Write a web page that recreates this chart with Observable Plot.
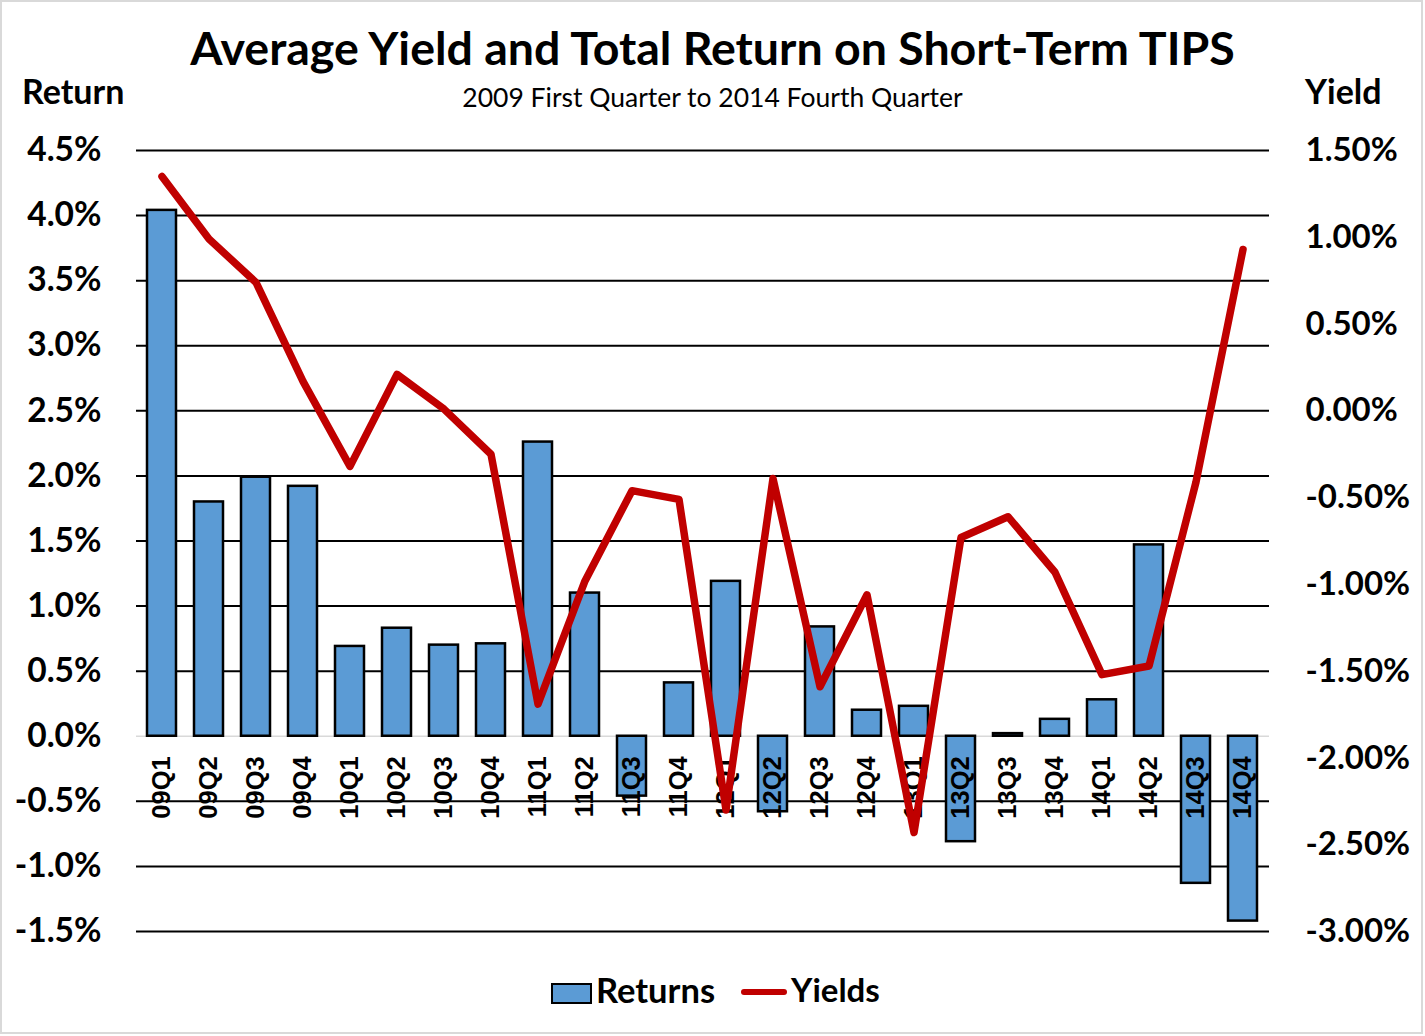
<!DOCTYPE html>
<html>
<head>
<meta charset="utf-8">
<script src="https://cdn.jsdelivr.net/npm/d3@7"></script>
<script src="https://cdn.jsdelivr.net/npm/@observablehq/plot@0.6"></script>
<style>
  html, body { margin: 0; padding: 0; background: #fff; }
  #page { position: relative; width: 1425px; height: 1036px; overflow: hidden; background: #fff; font-family: Lato, "Open Sans", sans-serif; color: #000; }
  .t { position: absolute; white-space: nowrap; line-height: 1; }
  #frame { position: absolute; left: 0; top: 0; width: 1423px; height: 1034px; border: 2px solid #d9d9d9; box-sizing: border-box; pointer-events: none; }
  #chart { position: absolute; left: 0; top: 120px; }
</style>
</head>
<body>
<div id="page">
  <div class="t" id="title" style="left:0;width:1425px;text-align:center;top:24px;font-size:46.5px;font-weight:700;">Average Yield and Total Return on Short-Term TIPS</div>
  <div class="t" id="subtitle" style="left:0;width:1425px;text-align:center;top:84px;font-size:26.5px;font-weight:400;">2009 First Quarter to 2014 Fourth Quarter</div>
  <div class="t" style="left:22px;top:74px;font-size:34px;font-weight:700;">Return</div>
  <div class="t" style="left:1305px;top:74px;font-size:34px;font-weight:700;">Yield</div>
  <div id="chart"></div>
  <div style="position:absolute;left:551px;top:983px;width:41px;height:21px;box-sizing:border-box;border:2px solid #000;background:#5b9bd5;"></div>
  <div class="t" style="left:596px;top:973px;font-size:34.5px;font-weight:700;">Returns</div>
  <div style="position:absolute;left:741px;top:989px;width:46px;height:6px;border-radius:3px;background:#c00000;"></div>
  <div class="t" style="left:791px;top:973px;font-size:33px;font-weight:700;">Yields</div>
  <div id="frame"></div>
</div>
<script>
// ---- data ----
const quarters = ["09Q1","09Q2","09Q3","09Q4","10Q1","10Q2","10Q3","10Q4","11Q1","11Q2","11Q3","11Q4",
                  "12Q1","12Q2","12Q3","12Q4","13Q1","13Q2","13Q3","13Q4","14Q1","14Q2","14Q3","14Q4"];
const returns = [4.04, 1.80, 1.99, 1.92, 0.69, 0.83, 0.70, 0.71, 2.26, 1.10, -0.46, 0.41,
                 1.19, -0.58, 0.84, 0.20, 0.23, -0.81, 0.02, 0.13, 0.28, 1.47, -1.13, -1.42];
const yields = [1.35, 0.99, 0.74, 0.17, -0.32, 0.21, 0.01, -0.25, -1.69, -0.98, -0.46, -0.51,
                -2.30, -0.39, -1.59, -1.06, -2.43, -0.73, -0.61, -0.93, -1.52, -1.47, -0.41, 0.93];
const returnTicks = [-1.5, -1.0, -0.5, 0, 0.5, 1.0, 1.5, 2.0, 2.5, 3.0, 3.5, 4.0, 4.5];
const yieldTicks = [-3.0, -2.5, -2.0, -1.5, -1.0, -0.5, 0, 0.5, 1.0, 1.5];
const returnDomain = [-1.5, 4.5];
const yieldDomain = [-3.0, 1.5];

const rows = quarters.map((q, i) => ({q, ret: returns[i], yld: yields[i]}));

// map yield axis onto the return axis (dual axis)
const toLeft = d3.scaleLinear().domain(yieldDomain).range(returnDomain);

const fmtYield = v => {
  let y = toLeft.invert(v);
  if (Math.abs(y) < 1e-9) y = 0;
  return y.toFixed(2) + "%";
};

const chart = Plot.plot({
  width: 1425,
  height: 840,
  marginTop: 30,
  marginBottom: 29,
  marginLeft: 136,
  marginRight: 156,
  style: {fontFamily: "Lato, sans-serif", color: "#000", background: "transparent", overflow: "visible"},
  x: {domain: quarters, paddingInner: 0.38, paddingOuter: 0.19, axis: null},
  y: {domain: returnDomain, axis: null},
  marks: [
    Plot.ruleY(returnTicks.filter(d => d !== 0), {stroke: "#000", strokeWidth: 2}),
    Plot.ruleY([0], {stroke: "#d9d9d9", strokeWidth: 1.5}),
    Plot.barY(rows, {x: "q", y: "ret", fill: "#5b9bd5", stroke: "#000", strokeWidth: 2.5}),
    Plot.text(rows, {x: "q", y: () => 0, text: "q", rotate: -90, textAnchor: "end", dy: 20,
                     fontSize: 25.5, fontWeight: "bold", fontFamily: "Liberation Sans, Arial, sans-serif", fill: "#000"}),
    Plot.line(rows, {x: "q", y: d => toLeft(d.yld), stroke: "#c00000", strokeWidth: 7.5,
                     strokeLinejoin: "round", strokeLinecap: "round"}),
    Plot.axisY({anchor: "left", ticks: returnTicks, tickFormat: d => d.toFixed(1) + "%", tickSize: 0, tickPadding: 35,
                fontSize: 33.5, fontWeight: "bold", label: null}),
    Plot.axisY({anchor: "right", ticks: yieldTicks.map(t => toLeft(t)), tickFormat: fmtYield, tickSize: 0, tickPadding: 36,
                fontSize: 33, fontWeight: "bold", label: null})
  ]
});
document.getElementById("chart").appendChild(chart);
</script>
</body>
</html>
